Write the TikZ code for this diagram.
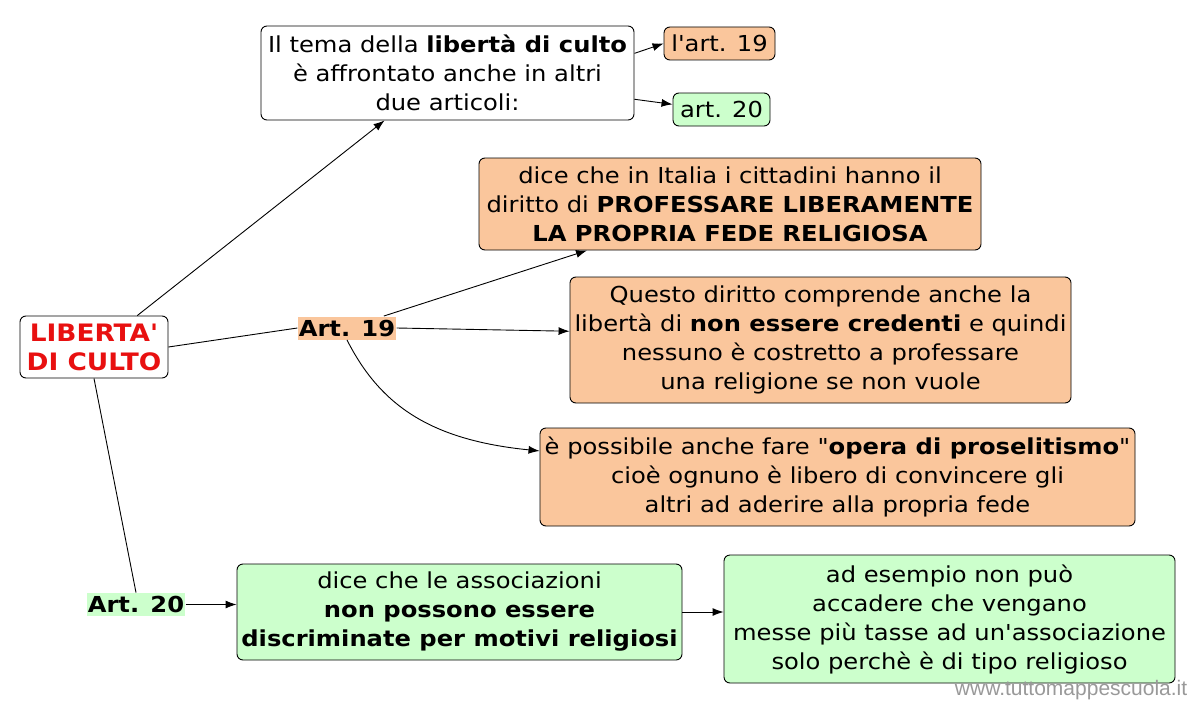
\documentclass[tikz,border=0pt]{standalone}
\usepackage{fontspec}
\setmainfont{DejaVu Sans}[Ligatures=TeXOff, FakeStretch=1.1]
\newfontfamily\markfont{Liberation Sans}
\usepackage{xcolor}
\usetikzlibrary{arrows.meta}

\definecolor{orangefill}{HTML}{FAC69C}
\definecolor{greenfill}{HTML}{CCFFCC}
\definecolor{titlered}{HTML}{E81010}

\begin{document}
\begin{tikzpicture}[
    x=1pt, y=-1pt,
    font=\fontsize{22}{29}\selectfont,
    box/.style={draw, rectangle, rounded corners=6pt, fill=#1, align=center,
                line width=0.9pt, inner sep=2pt},
    box/.default=white,
    tag/.style={fill=#1, inner sep=1pt, font=\fontsize{22}{24}\selectfont\bfseries},
    arr/.style={-{Latex[length=11pt,width=8pt]}},
    line width=0.9pt
]
    \useasboundingbox (0,0) rectangle (1191,701);

    % Main topic
    \node[box, minimum width=148pt, minimum height=62pt,
          font=\fontsize{24}{29}\selectfont\bfseries\color{titlered}]
        (liberta) at (94,347) {LIBERTA'\\DI CULTO};

    % Top branch
    \node[box, minimum width=373pt, minimum height=94pt] (tema) at (447.5,73)
        {Il tema della \textbf{libertà di culto}\\è affrontato anche in altri\\due articoli:};
    \node[box=orangefill, minimum width=111pt, minimum height=33pt] (rif19) at (719.5,43.5) {l'art. 19};
    \node[box=greenfill, minimum width=97pt, minimum height=33pt] (rif20) at (721.5,109.5) {art. 20};

    % Art. 19 branch
    \node[tag=orangefill, minimum width=94pt, minimum height=23pt] (art19) at (347,328) {Art. 19};
    \node[box=orangefill, minimum width=502pt, minimum height=92pt] (prof) at (730,204)
        {dice che in Italia i cittadini hanno il\\diritto di \textbf{PROFESSARE LIBERAMENTE}\\\textbf{LA PROPRIA FEDE RELIGIOSA}};
    \node[box=orangefill, minimum width=501pt, minimum height=126pt] (cred) at (820.5,340)
        {Questo diritto comprende anche la\\libertà di \textbf{non essere credenti} e quindi\\nessuno è costretto a professare\\una religione se non vuole};
    \node[box=orangefill, minimum width=595pt, minimum height=98pt] (pros) at (837.5,477)
        {è possibile anche fare "\textbf{opera di proselitismo}"\\cioè ognuno è libero di convincere gli\\altri ad aderire alla propria fede};

    % Art. 20 branch
    \node[tag=greenfill, minimum width=94pt, minimum height=23pt] (art20) at (136,604.5) {Art. 20};
    \node[box=greenfill, minimum width=445pt, minimum height=96pt] (assoc) at (459.5,612)
        {dice che le associazioni\\\textbf{non possono essere}\\\textbf{discriminate per motivi religiosi}};
    \node[box=greenfill, minimum width=451pt, minimum height=128pt] (tasse) at (949.5,619)
        {ad esempio non può\\accadere che vengano\\messe più tasse ad un'associazione\\solo perchè è di tipo religioso};

    % Connectors
    \draw[arr] (liberta.36) -- (tema.217);
    \draw (liberta.east) -- (art19.west);
    \draw (liberta.south) -- (art20.north);
    \draw[arr] (tema.6) -- (rif19.west);
    \draw[arr] (tema.-8) -- (rif20.174);
    \draw[arr] (art19.18) -- (prof.198);
    \draw[arr] (art19.east) -- (cred.178);
    \draw[arr] (art19.south) .. controls (380,405) and (430,440) .. (pros.175);
    \draw[arr] (art20.east) -- (art20.east -| assoc.west);
    \draw[arr] (assoc.east) -- (assoc.east -| tasse.west);

    % Watermark
    \node[anchor=east, text=black!40, font=\markfont\fontsize{21}{24}\selectfont] (sito) at (1191,690) {www.tuttomappescuola.it};
\end{tikzpicture}
\end{document}
